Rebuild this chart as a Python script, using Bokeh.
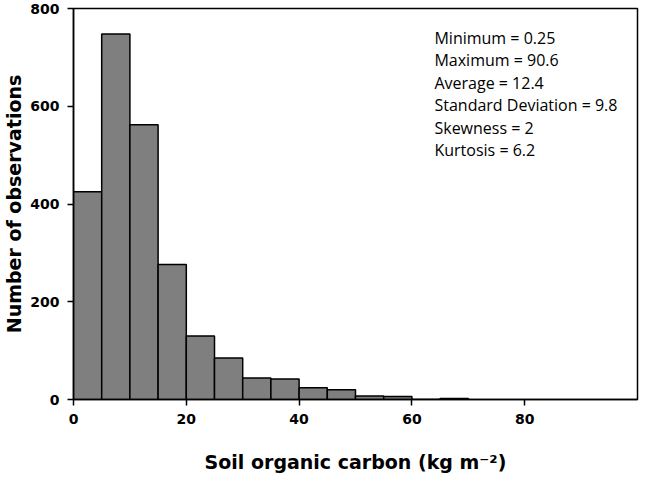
import numpy as np
from bokeh.plotting import figure
from bokeh.models import Label, FixedTicker, Range1d, ColumnDataSource
from bokeh.embed import file_html
from bokeh.resources import INLINE

# Histogram of soil organic carbon (bin width 5 kg m-2)
bin_left = [0, 5, 10, 15, 20, 25, 30, 35, 40, 45, 50, 55, 60, 65]
bin_right = [5, 10, 15, 20, 25, 30, 35, 40, 45, 50, 55, 60, 65, 70]
counts = [425, 748, 562, 276, 130, 85, 44, 42, 24, 20, 7, 6, 0, 2]

x_ticks = [0, 20, 40, 60, 80]
y_ticks = [0, 200, 400, 600, 800]

stat_names = ["Minimum", "Maximum", "Average", "Standard Deviation", "Skewness", "Kurtosis"]
stat_values = ["0.25", "90.6", "12.4", "9.8", "2", "6.2"]

p = figure(width=640, height=477, output_backend="svg", toolbar_location=None,
           x_range=Range1d(0, 100), y_range=Range1d(0, 800),
           min_border_left=69, min_border_right=3, min_border_top=8, min_border_bottom=78)

src = ColumnDataSource(dict(left=bin_left, right=bin_right, top=counts,
                            bottom=[0] * len(counts)))
p.quad(left="left", right="right", top="top", bottom="bottom", source=src,
       fill_color="#7f7f7f", line_color="black", line_width=1.5)

p.xgrid.visible = False
p.ygrid.visible = False
p.outline_line_color = "black"
p.outline_line_width = 1.5
p.outline_line_alpha = 1

for ax in (p.xaxis[0], p.yaxis[0]):
    ax.axis_line_width = 1.5
    ax.axis_line_color = "black"
    ax.major_tick_line_width = 1.5
    ax.major_tick_line_color = "black"
    ax.major_tick_in = 0
    ax.major_tick_out = 6
    ax.minor_tick_line_color = None
    ax.major_label_text_font = "DejaVu Sans"
    ax.major_label_text_font_style = "bold"
    ax.major_label_text_font_size = "14px"
    ax.major_label_text_color = "black"
    ax.major_label_standoff = 8
    ax.axis_label_text_font = "DejaVu Sans"
    ax.axis_label_text_font_style = "bold"
    ax.axis_label_text_font_size = "19px"
    ax.axis_label_text_color = "black"

p.xaxis.ticker = FixedTicker(ticks=x_ticks)
p.yaxis.ticker = FixedTicker(ticks=y_ticks)
p.xaxis.axis_label = "Soil organic carbon (kg m\u207b\u00b2)"
p.yaxis.axis_label = "Number of observations"
p.xaxis.axis_label_standoff = 24
p.yaxis.axis_label_standoff = 2

for i, (n, v) in enumerate(zip(stat_names, stat_values)):
    p.add_layout(Label(x=64, y=740 - 46 * i, text=f"{n} = {v}",
                       text_font="Open Sans", text_font_size="16px",
                       text_color="black", text_baseline="alphabetic",
                       text_align="left"))

open("out.html", "w").write(file_html(p, INLINE))
